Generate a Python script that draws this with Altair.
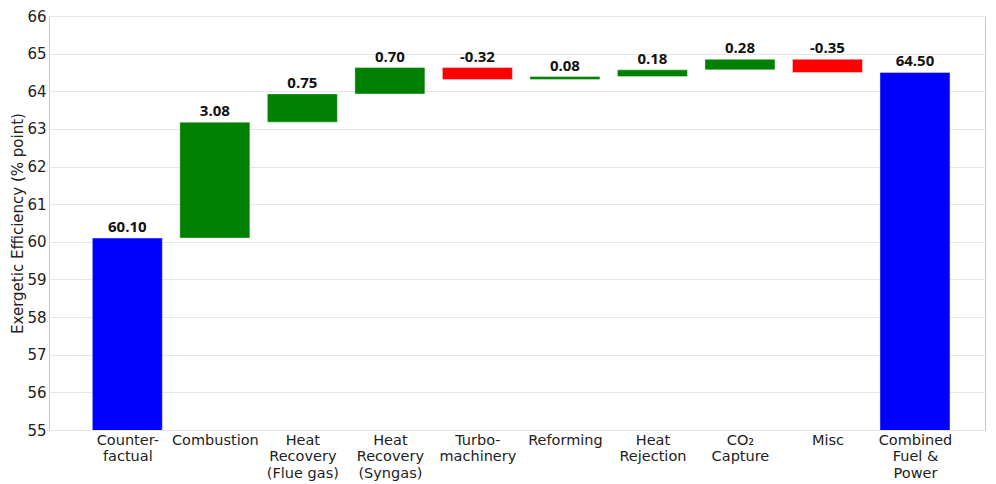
import altair as alt
import pandas as pd

categories = ["Counterfactual", "Combustion", "Heat Recovery (Flue gas)", "Heat Recovery (Syngas)",
              "Turbomachinery", "Reforming", "Heat Rejection", "CO2 Capture", "Misc",
              "Combined Fuel & Power"]
label_lines = [["Counter-", "factual"], ["Combustion"], ["Heat", "Recovery", "(Flue gas)"],
               ["Heat", "Recovery", "(Syngas)"], ["Turbo-", "machinery"], ["Reforming"],
               ["Heat", "Rejection"], ["CO\u2082", "Capture"], ["Misc"],
               ["Combined", "Fuel &", "Power"]]
values = [60.10, 3.08, 0.75, 0.70, -0.32, 0.08, 0.18, 0.28, -0.35, 64.50]
kinds = ["total", "delta", "delta", "delta", "delta", "delta", "delta", "delta", "delta", "total"]
y_ticks = list(range(55, 67))

rows = []
running = 0.0
for i, (cat, v, k) in enumerate(zip(categories, values, kinds)):
    if k == "total":
        start, end = 0.0, v
        running = v
        color = "total"
    else:
        start = running
        end = running + v
        running = end
        color = "pos" if v >= 0 else "neg"
    rows.append({"idx": i, "cat": cat, "start": start, "end": end,
                 "top": max(start, end), "val": v, "kind": color,
                 "label": f"{v:.2f}"})
df = pd.DataFrame(rows)

label_expr = "[" + ",".join(
    "[" + ",".join("'" + s + "'" for s in lines) + "]" for lines in label_lines
) + "][datum.value]"

xscale = alt.Scale(domain=[-0.895, 9.8], nice=False, zero=False)
yscale = alt.Scale(domain=[55, 66], nice=False, zero=False)

xaxis = alt.Axis(values=list(range(10)), labelExpr=label_expr, title=None,
                 grid=False, ticks=False, domain=False, labelPadding=3,
                 labelFontSize=14.5, labelLineHeight=16.5, labelBaseline="top",
                 labelOverlap=False, labelFlush=False,
                 labelFont="DejaVu Sans", labelColor="#222222")
yaxis = alt.Axis(values=y_ticks, title="Exergetic Efficiency (% point)",
                 grid=True, gridColor="#e6e6e6", ticks=False, domain=False,
                 labelOverlap=False, labelFlush=False,
                 labelPadding=3, labelFontSize=15, labelFont="DejaVu Sans",
                 labelColor="#222222", titleFontSize=15, titleFontWeight="normal",
                 titleFont="DejaVu Sans", titleColor="#222222", titlePadding=1)

base = alt.Chart(df).transform_calculate(
    x1="datum.idx - 0.4", x2="datum.idx + 0.4"
)

bars = base.mark_rect(clip=True, stroke="white", strokeWidth=0.8, strokeOpacity=0.5).encode(
    x=alt.X("x1:Q", scale=xscale, axis=xaxis),
    x2="x2:Q",
    y=alt.Y("start:Q", scale=yscale, axis=yaxis),
    y2="end:Q",
    color=alt.Color("kind:N", scale=alt.Scale(domain=["total", "pos", "neg"],
                                              range=["#0000ff", "#008000", "#ff0000"]),
                    legend=None),
)

texts = alt.Chart(df).mark_text(font="Open Sans", fontWeight="bold", fontSize=15,
                                baseline="bottom", dy=-3, color="#111111").encode(
    x=alt.X("idx:Q", scale=xscale, axis=xaxis),
    y=alt.Y("top:Q", scale=yscale, axis=yaxis),
    text="label:N",
)

chart = alt.layer(bars, texts).properties(
    width=936, height=414,
    autosize=alt.AutoSizeParams(type="none"),
    padding={"left": 41, "top": 8, "right": 3, "bottom": 54},
).configure_view(stroke="#c8c8c8", strokeWidth=1)

chart.save("out.html", embed_options={"renderer": "svg", "actions": False})
